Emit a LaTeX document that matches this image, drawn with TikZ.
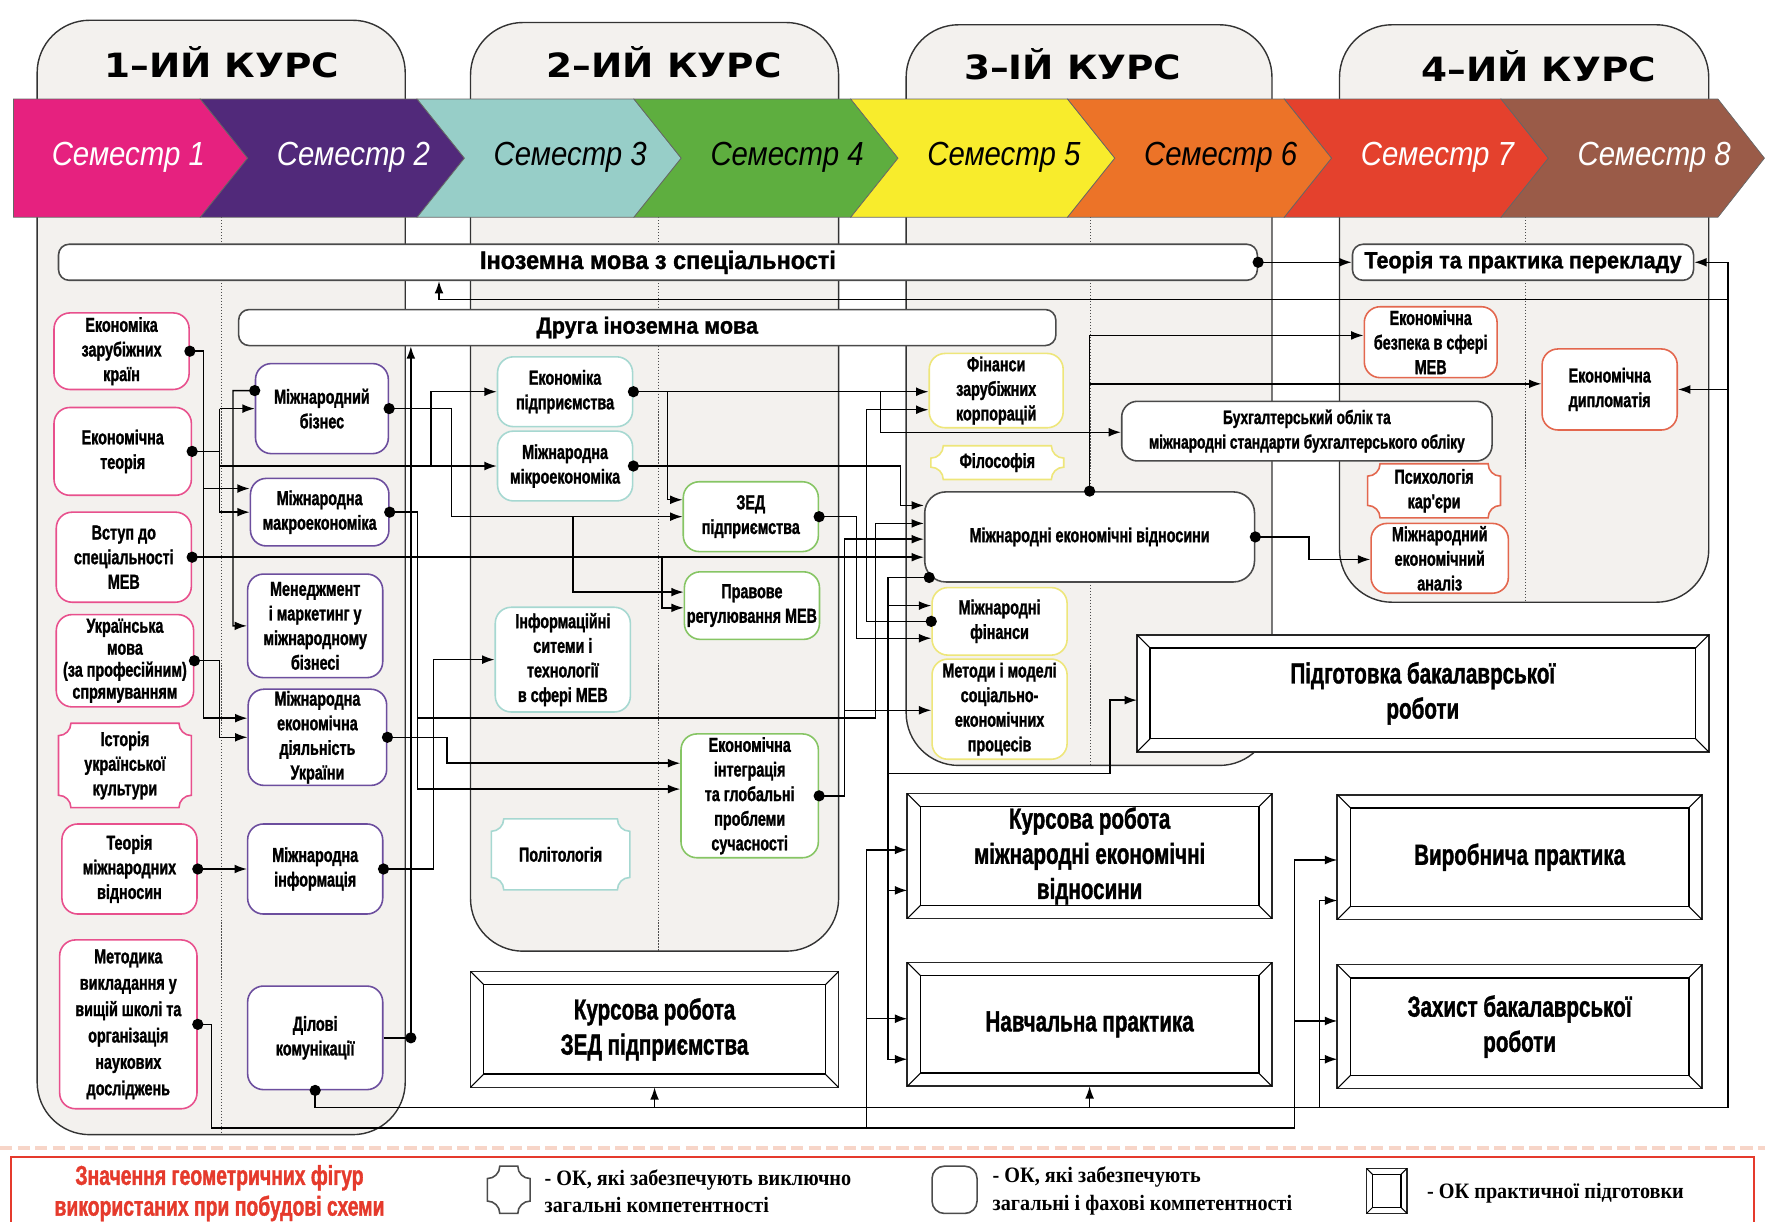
\documentclass[tikz,border=0pt]{standalone}
\usepackage{fontspec}
\setmainfont{Liberation Sans}
\newfontfamily\nodefont[FakeStretch=0.71,FakeBold=1.3]{Liberation Sans}
\newfontfamily\barfont[FakeStretch=0.92,FakeBold=1.3]{Liberation Sans}
\newfontfamily\coursefont[FakeStretch=1.12]{DejaVu Sans}
\newfontfamily\semfont[FakeStretch=0.88]{Liberation Sans}
\newfontfamily\legfont[FakeStretch=0.92]{Liberation Serif}
\usepackage{tikz}
\usetikzlibrary{arrows.meta,calc}

\definecolor{panelc}{HTML}{F3F1EE}
\definecolor{sem1}{HTML}{E6217F}
\definecolor{sem2}{HTML}{51297A}
\definecolor{sem3}{HTML}{97CEC8}
\definecolor{sem4}{HTML}{5EAE3F}
\definecolor{sem5}{HTML}{F8EC2C}
\definecolor{sem6}{HTML}{EC7328}
\definecolor{sem7}{HTML}{E4412D}
\definecolor{sem8}{HTML}{9A5B48}
\definecolor{c1col}{HTML}{E8508D}
\definecolor{c2col}{HTML}{6C4E9E}
\definecolor{c3col}{HTML}{A6D8D1}
\definecolor{c4col}{HTML}{86C564}
\definecolor{c5col}{HTML}{EEE67A}
\definecolor{c7col}{HTML}{E3674E}
\definecolor{darkc}{HTML}{4A4A4A}
\definecolor{legred}{HTML}{E53A2C}
\definecolor{dashc}{HTML}{F7D5C8}

% plaque: rectangle with hollow corners, text node on top
\newcommand\plaque[7]{%
  \draw[draw=#6, line width=0.9pt, fill=white]
    ({#2-#4/2+11},{#3-#5/2}) -- ({#2+#4/2-11},{#3-#5/2})
    arc[start angle=180, end angle=270, radius=0.2475cm]
    -- ({#2+#4/2},{#3+#5/2-11})
    arc[start angle=90, end angle=180, radius=0.2475cm]
    -- ({#2-#4/2+11},{#3+#5/2})
    arc[start angle=0, end angle=90, radius=0.2475cm]
    -- ({#2-#4/2},{#3-#5/2+11})
    arc[start angle=270, end angle=360, radius=0.2475cm] -- cycle;
  \node[txt, minimum width=#4*0.0225cm, minimum height=#5*0.0225cm] (#1) at (#2,#3) {#7};}

% double frame with bevelled corners
\newcommand\bevelbox[2]{%
  \draw[line width=0.8pt] ([shift={(#2,-#2)}]#1.north west) rectangle ([shift={(-#2,#2)}]#1.south east);
  \draw[line width=0.6pt] (#1.north west) -- ([shift={(#2,-#2)}]#1.north west)
    (#1.north east) -- ([shift={(-#2,-#2)}]#1.north east)
    (#1.south east) -- ([shift={(-#2,#2)}]#1.south east)
    (#1.south west) -- ([shift={(#2,#2)}]#1.south west);}

\begin{document}
\begin{tikzpicture}[x=0.0225cm, y=-0.0225cm, line width=0.8pt,
    sz/.style 2 args={minimum width=#1*0.0225cm, minimum height=#2*0.0225cm},
    panel/.style={draw=black!80, fill=panelc, line width=0.8pt, rounded corners=1.05cm},
    semline/.style={densely dotted, black!70, line width=0.7pt},
    chev/.style={draw=black!60, line width=0.4pt},
    course/.style={font=\coursefont\bfseries\fontsize{19}{22}\selectfont},
    semtxt/.style={font=\semfont\itshape\fontsize{19}{22}\selectfont},
    box/.style={draw, fill=white, rounded corners=9pt, line width=0.9pt, align=center, inner sep=1pt,
        font=\nodefont\bfseries\fontsize{11.5}{14}\selectfont},
    txt/.style={align=center, inner sep=1pt, font=\nodefont\bfseries\fontsize{11.5}{14}\selectfont},
    c1/.style={box, draw=c1col},
    c2/.style={box, draw=c2col},
    c3/.style={box, draw=c3col},
    c4/.style={box, draw=c4col},
    c5/.style={box, draw=c5col},
    c7/.style={box, draw=c7col},
    bar/.style={draw=darkc, fill=white, rounded corners=6pt, line width=0.9pt,
        font=\barfont\bfseries\fontsize{13.3}{15}\selectfont},
    frm/.style={draw=black!85, fill=white, line width=0.9pt, outer sep=0pt, align=center,
        font=\nodefont\bfseries\fontsize{16.5}{20}\selectfont},
    legt/.style={align=left, font=\legfont\bfseries\fontsize{12.5}{15.5}\selectfont},
    arr/.style={-{Latex[length=7pt,width=5pt]}}]

    \useasboundingbox (0,0) rectangle (1568,1085);

    % Course panels
    \draw[panel] (33,18) rectangle (360,1008);
    \draw[panel] (418,20) rectangle (745,845);
    \draw[panel] (805,22) rectangle (1130,680);
    \draw[panel] (1190,22) rectangle (1518,535);

    \node[course] (k1) at (197,55) {1–ИЙ КУРС};
    \node[course] (k2) at (590,55) {2–ИЙ КУРС};
    \node[course] (k3) at (953,57) {3–ІЙ КУРС};
    \node[course] (k4) at (1367,59) {4–ИЙ КУРС};

    % Semester separators
    \draw[semline] (197,193) -- (197,1008);
    \draw[semline] (585,193) -- (585,845);
    \draw[semline] (969,193) -- (969,680);
    \draw[semline] (1355,193) -- (1355,535);

    % Semester band
    \filldraw[chev, fill=sem1] (12,88) -- (178,88) -- (220,140.5) -- (178,193) -- (12,193) -- cycle;
    \filldraw[chev, fill=sem2] (178,88) -- (370.6,88) -- (412.6,140.5) -- (370.6,193) -- (178,193) -- (220,140.5) -- cycle;
    \filldraw[chev, fill=sem3] (370.6,88) -- (563.2,88) -- (605.2,140.5) -- (563.2,193) -- (370.6,193) -- (412.6,140.5) -- cycle;
    \filldraw[chev, fill=sem4] (563.2,88) -- (755.8,88) -- (797.8,140.5) -- (755.8,193) -- (563.2,193) -- (605.2,140.5) -- cycle;
    \filldraw[chev, fill=sem5] (755.8,88) -- (948.4,88) -- (990.4,140.5) -- (948.4,193) -- (755.8,193) -- (797.8,140.5) -- cycle;
    \filldraw[chev, fill=sem6] (948.4,88) -- (1141,88) -- (1183,140.5) -- (1141,193) -- (948.4,193) -- (990.4,140.5) -- cycle;
    \filldraw[chev, fill=sem7] (1141,88) -- (1333.6,88) -- (1375.6,140.5) -- (1333.6,193) -- (1141,193) -- (1183,140.5) -- cycle;
    \filldraw[chev, fill=sem8] (1333.6,88) -- (1526.2,88) -- (1567.5,140.5) -- (1526.2,193) -- (1333.6,193) -- (1375.6,140.5) -- cycle;

    \node[semtxt, text=white] (s1) at (114,140) {Семестр 1};
    \node[semtxt, text=white] (s2) at (314,140) {Семестр 2};
    \node[semtxt] (s3) at (506.6,140) {Семестр 3};
    \node[semtxt] (s4) at (699.2,140) {Семестр 4};
    \node[semtxt] (s5) at (891.8,140) {Семестр 5};
    \node[semtxt] (s6) at (1084.4,140) {Семестр 6};
    \node[semtxt, text=white] (s7) at (1277,140) {Семестр 7};
    \node[semtxt, text=white] (s8) at (1469.6,140) {Семестр 8};

    % Language bars
    \node[bar, sz={1065}{32}, font=\barfont\bfseries\fontsize{14.5}{16}\selectfont] (inoz) at (584.5,233) {Іноземна мова з спеціальності};
    \node[bar, sz={726}{32}] (druga) at (575,291) {Друга іноземна мова};

    % Semester 1
    \node[c1, sz={120}{68}] (ekzar) at (108,312) {Економіка\\зарубіжних\\країн};
    \node[c1, sz={122}{78}] (ekteor) at (109,401) {Економічна\\теорія};
    \node[c1, sz={120}{80}] (vstup) at (110,495) {Вступ до\\спеціальності\\МЕВ};
    \node[c1, sz={122}{82}, font=\nodefont\bfseries\fontsize{11.5}{12.5}\selectfont] (ukrmova) at (111,587)
        {Українська\\мова\\(за професійним)\\спрямуванням};
    \plaque{istoria}{111}{680}{118}{75}{c1col}{Історія\\української\\культури}
    \node[c1, sz={120}{80}] (teormv) at (115,772) {Теорія\\міжнародних\\відносин};
    \node[c1, sz={122}{150}, font=\nodefont\bfseries\fontsize{11.5}{15}\selectfont] (metod) at (114,910)
        {Методика\\викладання у\\вищій школі та\\організація\\наукових\\досліджень};

    % Semester 2
    \node[c2, sz={118}{80}] (mbiz) at (286,363) {Міжнародний\\бізнес};
    \node[c2, sz={123}{60}] (makro) at (284,455) {Міжнародна\\макроекономіка};
    \node[c2, sz={120}{92}] (menedzh) at (280,556) {Менеджмент\\і маркетинг у\\міжнародному\\бізнесі};
    \node[c2, sz={123}{82}] (med) at (282,655) {Міжнародна\\економічна\\діяльність\\України};
    \node[c2, sz={120}{80}] (minf) at (280,772) {Міжнародна\\інформація};
    \node[c2, sz={120}{92}] (dilovi) at (280,922) {Ділові\\комунікації};

    % Semester 3
    \node[c3, sz={120}{62}] (ekpidpr) at (502,348) {Економіка\\підприємства};
    \node[c3, sz={120}{62}] (mikro) at (502,414) {Міжнародна\\мікроекономіка};
    \node[c3, sz={120}{93}] (infsys) at (500,586) {Інформаційні\\ситеми і\\технології\\в сфері МЕВ};
    \plaque{polit}{498}{759}{123}{63}{c3col}{Політологія}

    % Semester 4
    \node[c4, sz={120}{62}] (zed) at (667,459) {ЗЕД\\підприємства};
    \node[c4, sz={120}{60}] (pravo) at (668,538) {Правове\\регулювання МЕВ};
    \node[c4, sz={122}{110}] (ekint) at (666,707) {Економічна\\інтеграція\\та глобальні\\проблеми\\сучасності};

    % Semester 5 and 6
    \node[c5, sz={119}{66}] (fzk) at (885,347) {Фінанси\\зарубіжних\\корпорацій};
    \plaque{filos}{886}{411}{118}{30}{c5col}{Філософія}
    \node[box, draw=darkc, rounded corners=12pt, sz={293}{80}] (mev) at (968,477) {Міжнародні економічні відносини};
    \node[c5, sz={120}{60}] (mfin) at (888,552) {Міжнародні\\фінанси};
    \node[c5, sz={120}{89}] (metody) at (888,630) {Методи і моделі\\соціально-\\економічних\\процесів};
    \node[box, draw=darkc, sz={329}{53}, font=\nodefont\bfseries\fontsize{11}{14}\selectfont] (buh) at (1161,383)
        {Бухгалтерський облік та\\міжнародні стандарти бухгалтерського обліку};

    % Semester 7 and 8
    \node[bar, sz={303}{32}] (ttp) at (1353,233) {Теорія та практика перекладу};
    \node[c7, sz={118}{63}] (ekbez) at (1271,304) {Економічна\\безпека в сфері\\МЕВ};
    \node[c7, sz={120}{72}] (dipl) at (1430,346) {Економічна\\дипломатія};
    \plaque{psych}{1274}{436}{118}{48}{c7col}{Психологія\\кар'єри}
    \node[c7, sz={122}{62}] (mea) at (1279,496) {Міжнародний\\економічний\\аналіз};

    % Practical training
    \node[frm, sz={508}{104}] (pidg) at (1264,616) {Підготовка бакалаврської\\роботи};
    \bevelbox{pidg}{7.5pt}
    \node[frm, sz={324}{111}] (kursmev) at (968,760.5) {Курсова робота\\міжнародні економічні\\відносини};
    \bevelbox{kursmev}{7.5pt}
    \node[frm, sz={324}{110}] (navch) at (968,910) {Навчальна практика};
    \bevelbox{navch}{7.5pt}
    \node[frm, sz={327}{103}] (kurszed) at (581.5,914.5) {Курсова робота\\ЗЕД підприємства};
    \bevelbox{kurszed}{7.5pt}
    \node[frm, sz={324}{111}] (vyrob) at (1350,761.5) {Виробнича практика};
    \bevelbox{vyrob}{7.5pt}
    \node[frm, sz={324}{110}] (zahyst) at (1350,912) {Захист бакалаврської\\роботи};
    \bevelbox{zahyst}{7.5pt}

    % Links from semester 1
    \draw (ekzar.east) -- (181,312) -- (181,434);
    \draw[arr] (181,434) -- (makro.west |- 0,434);
    \draw[arr] (181,434) -- (181,638) -- (med.west |- 0,638);
    \draw (ekteor.east) -- (195,401);
    \draw[arr] (195,363) -- (mbiz.west);
    \draw[arr] (195,363) -- (195,455) -- (makro.west);
    \draw[arr] (195,414) -- (mikro.west);
    \draw[arr] (383,414) -- (383,348) -- (ekpidpr.west);
    \draw[arr] (vstup.east) -- (mev.west |- vstup.east);
    \draw[arr] (588,495) -- (588,540) -- (pravo.west |- 0,540);
    \draw[arr] (ukrmova.east) -- (195,587) -- (195,655) -- (med.west);
    \draw[arr] (teormv.east) -- (minf.west);
    \draw[arr] (metod.east) -- (188,910) -- (188,1002) -- (1150,1002) -- (1150,764) -- (vyrob.west |- 0,764);
    \draw[arr] (1150,907) -- (zahyst.west |- 0,907);
    \draw[arr] (770,1002) -- (770,755) -- (kursmev.west |- 0,755);
    \draw[arr] (770,905) -- (navch.west |- 0,905);

    % Links from semester 2
    \draw[arr] (mbiz.165) -- (207,347) -- (207,556) -- (menedzh.west);
    \draw[arr] (mbiz.east) -- (401,363) -- (401,459) -- (zed.west);
    \draw[arr] (509,459) -- (509,526) -- (pravo.west |- 0,526);
    \draw[arr] (makro.east) -- (371,455) -- (371,701) -- (ekint.west |- 0,701);
    \draw[arr] (371,638) -- (778,638) -- (778,465) -- (mev.west |- 0,465);
    \draw[arr] (med.east) -- (397,655) -- (397,678) -- (ekint.west |- 0,678);
    \draw[arr] (minf.east) -- (385,772) -- (385,586) -- (infsys.west);
    \draw (dilovi.east) -- (365,922);
    \draw[arr] (365,922) -- (365,0 |- druga.south);
    \draw[arr] (dilovi.south) -- (280,984) -- (1535,984) -- (1535,233) -- (ttp.east);
    \draw[arr] (1535,346) -- (dipl.east);
    \draw[arr] (1535,266) -- (390,266) -- (390,0 |- inoz.south);
    \draw[arr] (kurszed.south |- 0,984) -- (kurszed.south);
    \draw[arr] (navch.south |- 0,984) -- (navch.south);
    \draw[arr] (1172,984) -- (1172,800) -- (vyrob.west |- 0,800);
    \draw[arr] (1172,941) -- (zahyst.west |- 0,941);

    % Links from semesters 3 and 4
    \draw[arr] (ekpidpr.east) -- (fzk.west |- ekpidpr.east);
    \draw[arr] (593,348) -- (593,444) -- (zed.west |- 0,444);
    \draw[arr] (782,348) -- (782,384) -- (buh.west |- 0,384);
    \draw[arr] (mikro.east) -- (800,414) -- (800,449) -- (mev.west |- 0,449);
    \draw[arr] (zed.east) -- (761,459) -- (761,567) -- (mfin.west |- 0,567);
    \draw[arr] (ekint.east) -- (750,707) -- (750,479) -- (mev.west |- 0,479);
    \draw[arr] (750,631) -- (metody.west |- 0,631);

    % Links from semester 5
    \draw[arr] (mfin.west) -- (770,552) -- (770,364) -- (fzk.west |- 0,364);
    \coordinate (mevsw) at ([xshift=3pt,yshift=3pt]mev.south west);
    \draw[arr] (mevsw) -- (789,0 |- mevsw) -- (789,941) -- (navch.west |- 0,941);
    \draw[arr] (789,538) -- (mfin.west |- 0,538);
    \draw[arr] (789,791) -- (kursmev.west |- 0,791);
    \draw[arr] (789,687) -- (986,687) -- (986,622) -- (pidg.west |- 0,622);
    \draw[arr] (mev.north) -- (968,298) -- (ekbez.west |- 0,298);
    \draw[arr] (968,341) -- (dipl.west |- 0,341);
    \draw[arr] (mev.east) -- (1163,477) -- (1163,497) -- (mea.west |- 0,497);
    \draw[arr] (inoz.east) -- (ttp.west);

    % Start points
    \fill (ekzar.east) circle (3.2pt) (ekteor.east) circle (3.2pt) (vstup.east) circle (3.2pt)
        (ukrmova.east) circle (3.2pt) (teormv.east) circle (3.2pt) (metod.east) circle (3.2pt)
        (mbiz.165) circle (3.2pt) (mbiz.east) circle (3.2pt) (makro.east) circle (3.2pt)
        (med.east) circle (3.2pt) (minf.east) circle (3.2pt) (365,922) circle (3.2pt)
        (dilovi.south) circle (3.2pt) (ekpidpr.east) circle (3.2pt) (mikro.east) circle (3.2pt)
        (zed.east) circle (3.2pt) (mfin.west) circle (3.2pt) (ekint.east) circle (3.2pt)
        (mevsw) circle (3.2pt) (mev.north) circle (3.2pt) (mev.east) circle (3.2pt)
        (inoz.east) circle (3.2pt);

    % Legend
    \draw[dashc, line width=2.5pt, dash pattern=on 7pt off 3pt] (0,1020) -- (1568,1020);
    \draw[legred, line width=0.9pt] (10,1028) rectangle (1558,1100);
    \node[font=\nodefont\bfseries\fontsize{15.5}{17.5}\selectfont, text=legred, align=center] (legtitle) at (195,1060)
        {Значення геометричних фігур\\використаних при побудові схеми};
    \plaque{lgplq}{452}{1057}{38}{42}{black!70}{}
    \node[box, draw=black!70, rounded corners=7pt, sz={40}{42}] (lground) at (848,1057) {};
    \node[frm, line width=0.7pt, sz={36}{40}] (lgfrm) at (1232,1058) {};
    \bevelbox{lgfrm}{3.5pt}
    \node[legt, anchor=west] (lgt1) at (478,1058) {- ОК, які забезпечують виключно\\загальні компетентності};
    \node[legt, anchor=west] (lgt2) at (876,1058) {- ОК, які забезпечують\\загальні і фахові компетентності};
    \node[legt, anchor=west] (lgt3) at (1262,1060) {- ОК практичної підготовки};

\end{tikzpicture}
\end{document}
